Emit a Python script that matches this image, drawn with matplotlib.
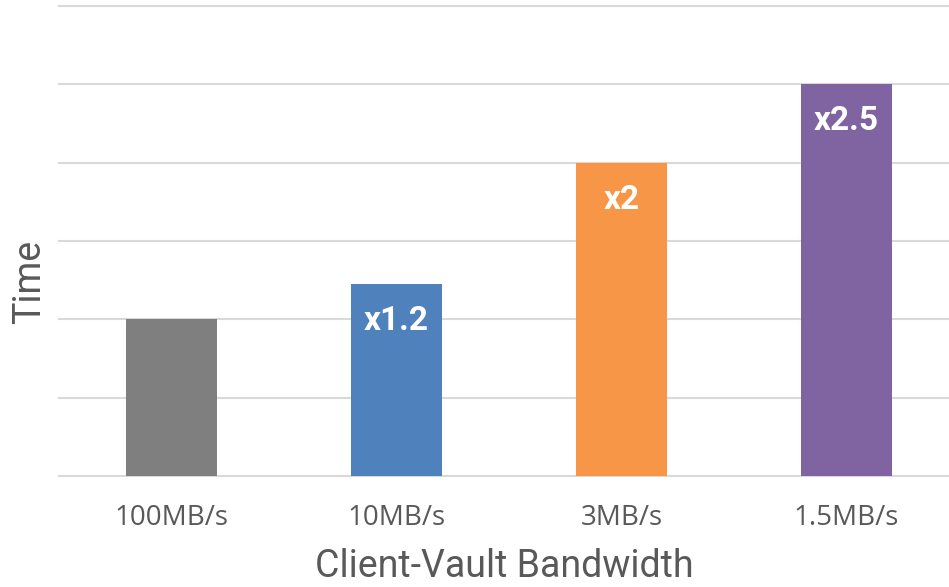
import matplotlib.pyplot as plt
import numpy as np

categories = ['100MB/s', '10MB/s', '3MB/s', '1.5MB/s']
times = [2.0, 2.45, 4.0, 5.0]
labels = ['', 'x1.2', 'x2', 'x2.5']
colors = ['#7F7F7F', '#4F81BD', '#F79646', '#8064A2']

fig = plt.figure(figsize=(9.49, 5.87), dpi=100)
ax = fig.add_axes([59/949, 1 - 476/587, 890/949, 470/587])

x = np.arange(len(categories))
bars = ax.bar(x, times, width=0.405, color=colors, zorder=3)

for b, lab in zip(bars, labels):
    if lab:
        ax.annotate(lab, (b.get_x() + b.get_width()/2, b.get_height()),
                    xytext=(0, -26.6), textcoords='offset points',
                    ha='center', va='center', color='white',
                    fontsize=24, fontweight='bold', family='Roboto', zorder=4)

ax.set_xlim(-0.5, -0.5 + 890/225)
ax.set_ylim(0, 6)
ax.set_yticks(np.arange(0, 7, 1))
ax.yaxis.grid(True, color='#D9D9D9', linewidth=1.5, zorder=0)
for gl in ax.get_ygridlines():
    gl.set_clip_on(False)
ax.set_yticklabels([])
ax.tick_params(axis='y', length=0)
ax.set_xticks(x)
ax.set_xticklabels(categories, fontsize=20, color='#595959', family='Open Sans')
ax.tick_params(axis='x', length=0, pad=20)
for s in ax.spines.values():
    s.set_visible(False)

ax.set_ylabel('Time', fontsize=27, color='#595959', family='Roboto')
ax.set_xlabel('Client-Vault Bandwidth', fontsize=27, color='#595959', family='Roboto', labelpad=12)
ax.yaxis.set_label_coords(-11/890, 0.413)

fig.savefig('out.png', dpi=100)
